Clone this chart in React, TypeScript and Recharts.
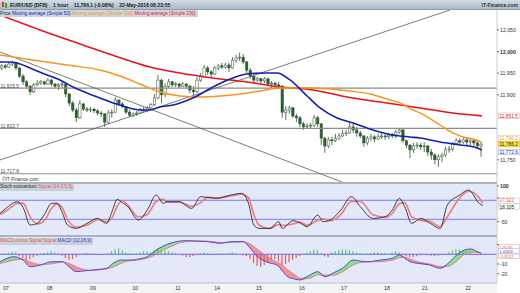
import React from 'react';
import { ComposedChart, Line, Bar, Area, XAxis, YAxis, ReferenceLine } from 'recharts';

const FONT = '"Liberation Sans", Arial, sans-serif';
const X_DOMAIN: [number, number] = [0, 280];

const dayTickHours = [3.4, 27.9, 52.4, 76.1, 100.3, 122.3, 145.9, 170.1, 193.8, 218, 239.4, 263.7];
const dayTickLabels = ['07', '08', '09', '10', '11', '14', '15', '16', '17', '18', '21', '22'];

// 2-hour candles [open, high, low, close]
const candles: [number, number, number, number][] = [
  [11962,11971,11957,11967],[11967,11971,11960,11964],[11964,11976,11962,11971],[11971,11978,11967,11974],
  [11974,11976,11957,11962],[11962,11964,11939,11943],[11943,11948,11923,11930],[11930,11934,11916,11920],
  [11920,11923,11900,11907],[11907,11927,11904,11923],[11923,11934,11920,11927],[11927,11934,11923,11930],
  [11930,11932,11923,11925],[11925,11939,11923,11934],[11934,11937,11920,11925],[11925,11927,11914,11920],
  [11920,11927,11911,11923],[11923,11930,11916,11925],[11925,11927,11895,11902],[11902,11904,11874,11881],
  [11881,11886,11860,11865],[11865,11870,11837,11847],[11847,11888,11844,11879],[11879,11881,11863,11867],
  [11867,11872,11860,11865],[11865,11872,11860,11867],[11867,11870,11858,11863],[11863,11867,11853,11858],
  [11858,11863,11849,11856],[11856,11858,11826,11837],[11837,11865,11833,11858],[11858,11867,11847,11860],
  [11860,11895,11858,11888],[11888,11890,11874,11879],[11879,11883,11870,11872],[11872,11874,11856,11860],
  [11860,11865,11849,11853],[11853,11860,11849,11856],[11856,11863,11851,11858],[11858,11870,11856,11865],
  [11865,11872,11858,11863],[11863,11874,11860,11870],[11870,11881,11865,11877],[11877,11902,11874,11893],
  [11893,11946,11890,11934],[11934,11937,11881,11900],[11900,11927,11895,11920],[11920,11937,11916,11930],
  [11930,11932,11918,11923],[11923,11930,11918,11925],[11925,11927,11916,11920],[11920,11930,11918,11925],
  [11925,11927,11916,11920],[11920,11923,11904,11911],[11911,11920,11900,11907],[11907,11941,11904,11934],
  [11934,11950,11930,11943],[11943,11969,11939,11962],[11962,11967,11946,11953],[11953,11957,11941,11948],
  [11948,11967,11946,11962],[11962,11971,11957,11967],[11967,11974,11960,11964],[11964,11974,11960,11969],
  [11969,11974,11953,11962],[11962,11987,11960,11980],[11980,11992,11974,11985],[11985,11997,11978,11987],
  [11987,11994,11971,11976],[11976,11978,11950,11957],[11957,11962,11937,11943],[11943,11948,11927,11934],
  [11934,11941,11930,11937],[11937,11939,11927,11932],[11932,11941,11927,11937],[11937,11939,11920,11925],
  [11925,11932,11916,11927],[11927,11930,11916,11923],[11923,11930,11914,11920],[11920,11923,11847,11860],
  [11860,11874,11842,11865],[11865,11874,11856,11870],[11870,11872,11847,11851],[11851,11856,11837,11847],
  [11847,11851,11826,11833],[11833,11837,11819,11826],[11826,11835,11821,11828],[11828,11835,11823,11830],
  [11830,11853,11826,11847],[11847,11851,11826,11833],[11833,11835,11784,11800],[11800,11803,11766,11782],
  [11782,11803,11777,11796],[11796,11803,11784,11794],[11794,11810,11791,11800],[11800,11812,11796,11805],
  [11805,11819,11803,11810],[11810,11819,11805,11812],[11812,11835,11810,11826],[11826,11833,11812,11819],
  [11819,11826,11803,11812],[11812,11817,11800,11805],[11805,11807,11780,11789],[11789,11805,11784,11800],
  [11800,11810,11793,11803],[11803,11807,11791,11798],[11798,11810,11796,11803],[11803,11812,11798,11805],
  [11805,11810,11796,11803],[11803,11812,11798,11807],[11807,11812,11800,11805],[11805,11819,11800,11814],
  [11814,11823,11810,11819],[11819,11821,11789,11794],[11794,11796,11777,11784],[11784,11787,11754,11773],
  [11773,11789,11766,11782],[11782,11791,11775,11784],[11784,11789,11773,11780],[11780,11791,11768,11782],
  [11782,11784,11759,11768],[11768,11775,11750,11761],[11761,11766,11740,11750],[11750,11763,11734,11757],
  [11757,11766,11745,11761],[11761,11780,11757,11773],[11773,11782,11766,11775],[11775,11791,11770,11787],
  [11787,11800,11784,11794],[11794,11800,11784,11791],[11791,11800,11787,11796],[11796,11800,11784,11791],
  [11791,11798,11784,11794],[11794,11796,11780,11789],[11789,11796,11775,11782],[11782,11789,11757,11786.2],
];

// moving averages [hour, value]
const ma50: [number, number][] = [
  [0,11975.8],[5.6,11975.8],[9.6,11973.5],[16.9,11961.9],[26.5,11945.8],[33.8,11934.3],[41.1,11918.1],
  [49,11904.3],[56.3,11892.7],[63.7,11881.2],[67.6,11876.6],[74.9,11867.4],[80.6,11865.1],[84.5,11865.1],
  [90.1,11872],[97.5,11876.6],[101.4,11881.2],[109.9,11895],[120,11918.1],[129.6,11936.6],[139.2,11948.1],
  [149.3,11950.4],[156.1,11950.4],[163.4,11934.3],[173,11897.3],[180.3,11869.7],[189.9,11846.6],
  [198.9,11835],[210.1,11818.9],[221.4,11807.3],[231,11802.7],[236.6,11800.4],[247.9,11791.2],
  [259.2,11784.3],[267.6,11779],[271.5,11772.6],
];
const ma100: [number, number][] = [
  [0,11992],[18.6,11980.4],[37.7,11968.9],[56.3,11957.3],[67.6,11943.5],[78.9,11925],[88.5,11908.9],
  [101.4,11897.3],[112.7,11895],[123.9,11897.3],[135.2,11902],[146.5,11908.9],[157.7,11915.8],
  [169,11915.8],[176.3,11915.8],[185.9,11913.5],[197.2,11908.9],[208.5,11902],[219.7,11888.1],
  [225.4,11881.2],[232.7,11865.1],[236.6,11858.1],[247.9,11830.4],[255.2,11812],[260.8,11802.7],
  [266.5,11798.1],[271.5,11790.2],
];
const ma200: [number, number][] = [
  [0,12084.3],[22.5,12049.7],[45.1,12017.4],[71.5,11980.4],[84.5,11964.3],[101.4,11950.4],[120,11938.9],
  [139.2,11929.6],[157.7,11918.1],[176.3,11911.2],[195.5,11895],[214.1,11883.5],[236.6,11869.7],
  [255.2,11858.1],[271.5,11851.5],
];

// stochastic momentum [hour, stoch, signal]
const stoch: [number, number, number][] = [
  [0,-15,-20],[4,10,-2],[7,27,15],[10,34,28],[13,10,28],[17,-64,-30],[21,-57,-60],[25,-20,-45],[29,27,5],
  [32,28,25],[35,-10,10],[38,-64,-40],[43,-78,-72],[49,-57,-65],[55,-36,-42],[60,-57,-50],[63,-10,-35],
  [66,44,15],[69,30,38],[72,13,20],[78,-43,-30],[83,-1,-20],[88,62,35],[92,27,45],[94,34,32],[101,34,32],
  [108,6,15],[113,55,30],[117,52,52],[122,48,50],[130,62,58],[136,69,66],[140,27,50],[143,-64,-20],
  [146,-78,-65],[152,-78,-78],[157,-50,-62],[159,-78,-66],[165,-46,-60],[169,-55,-52],[173,-71,-65],
  [179,-22,-45],[182,-50,-38],[186,-43,-46],[192,-1,-20],[198,55,35],[203,13,35],[210,-36,-20],
  [217,-29,-32],[221,-1,-15],[225,48,25],[228,13,30],[232,-57,-30],[237,-36,-45],[242,-55,-48],
  [248,-78,-70],[252,20,-30],[259,62,50],[264,83,78],[270,27,50],[272,18.105,27.922],
];

// MACD [hour, macd, signal]
const macd: [number, number, number][] = [
  [0,-7.6,-9.5],[8,-2.5,-6],[13,-6,-5],[17,-12.8,-8],[23,-11,-10.5],[28,-8,-10],[32,-7.6,-9],[35,-7.6,-8],
  [39,-13,-9.5],[43,-17.9,-13],[48,-17,-16],[52,-16.2,-16.8],[56,-15.5,-16],[60,-14.4,-15.2],[64,-9,-13],
  [68,-5.9,-9.5],[72,-6,-7],[75,-5.9,-6.3],[79,-4.5,-5.5],[83,-2.5,-4],[88,4.4,0],[92,8.5,4.5],[97,12,8.5],
  [101,13.5,11.5],[105,14,13],[111,13.5,13.8],[117,13,13.5],[121,12,12.8],[124,11.3,12],[128,12.5,12],
  [131,13,12.3],[137,13,12.8],[141,6.2,10.5],[145,-2.5,5],[148,-6,1],[152,-9,-4],[156,-11,-8],[159,-17,-11],
  [162,-23.1,-16],[166,-25.5,-21],[169,-26.5,-24.5],[174,-22,-25],[179,-17.9,-21],[183,-23.1,-21.5],
  [188,-19,-21.5],[193,-14.4,-18],[199,-5.9,-11],[203,-7,-8.5],[207,-7.6,-8],[214,-6,-7.5],[221,-4.1,-6],
  [225,-0.7,-3.5],[228,-4,-3],[231,-7.6,-5],[236,-9.5,-8],[242,-11,-10],[248,-14.4,-12.5],[252,-10,-12.5],
  [256,-3,-9],[259,2,-4],[262,4.5,0.5],[265,5.5,2],[268,3.5,2.2],[271,1.0024,1.8136],
];

// MACD minus signal histogram, one per 2-hour candle
const macdHist: number[] = [
  0.5,1,1.5, 2.5,2, -2,-4,-6,-5,-3,-1.5, 1,1.5,2, 3,2,1, -1.5,-4,-6,-5,-3,-1,
  1,1.5,1,0.5,-0.5,-1,0.5,1, 3,5,6,4,2, 1,0.5,1, 2,3,3,2, 4,6,5,4,3,2, 1,0,
  -1.5,-3,-3,-2,-1, 1,2,1, 0.5,-0.5,0.5,1,0.5, 1.5,2,1, 0,-1,
  -2,-5,-9,-12,-13,-11,-8,-6,-5,-7,-11,-10,-8,-6,-4,-2, 0.5,2,3, 5,4,1, -2,-3,
  2,3,4,5,5,4,3,2,1, 0.5,1,1.5,2,2,1.5,1,0.5, 2,3,2, -1,-2,-3,-3,-2,-1,
  -0.5,-1,-1.5,-2,-1.5, -0.5,0.5, 2,4,5,5,4,3,1.5, -0.5,-1,-0.8112,
];

const candleRows = candles.map((c, i) => ({ h: 2 * i + 1, o: c[0], hi: c[1], lo: c[2], c: c[3], range: [c[2], c[1]] }));
const ma50Rows = ma50.map(([h, v]) => ({ h, v }));
const ma100Rows = ma100.map(([h, v]) => ({ h, v }));
const ma200Rows = ma200.map(([h, v]) => ({ h, v }));
const stochRows = stoch.map(([h, k, d]) => ({ h, k, d }));

const macdRows = (() => {
  const map = new Map<number, any>();
  macd.forEach(([h, m, s]) => map.set(h, { h, m, s }));
  macdHist.forEach((v, i) => {
    const h = 2 * i + 1;
    const r = map.get(h) || { h };
    r.hist = v;
    map.set(h, r);
  });
  return Array.from(map.values()).sort((a, b) => a.h - b.h);
})();

const fmtPrice = (v: number) => v.toLocaleString('en-US', { minimumFractionDigits: 0, maximumFractionDigits: 1 });

const Candle = (props: any) => {
  const { x, y, width, height, payload } = props;
  if (x == null || y == null) return null;
  const top = Math.min(y, y + height);
  const hp = Math.abs(height);
  const span = payload.hi - payload.lo || 1;
  const py = (v: number) => top + ((payload.hi - v) / span) * hp;
  const cx = x + width / 2;
  const yo = py(payload.o);
  const yc = py(payload.c);
  const up = payload.c >= payload.o;
  const bodyTop = Math.min(yo, yc);
  const bodyH = Math.max(Math.abs(yc - yo), 0.8);
  return (
    <g>
      <line x1={cx} x2={cx} y1={top} y2={top + hp} stroke="#2f4f2f" strokeWidth={0.8} />
      <rect x={cx - 1.2} y={bodyTop} width={2.4} height={bodyH} fill={up ? '#ffffff' : '#2f5f2f'} stroke="#2f4f2f" strokeWidth={0.5} />
    </g>
  );
};

const HistBar = (props: any) => {
  const { x, y, width, height, payload } = props;
  if (x == null || y == null) return null;
  const top = Math.min(y, y + height);
  const hp = Math.abs(height);
  return <rect x={x + width / 2 - 0.6} y={top} width={1.2} height={hp} fill={payload.hist >= 0 ? '#4fcf4f' : '#e85a5a'} />;
};

const makeTag = (txt: string, color: string, bg: string, border: string, dy: number, h = 5.6, fs = 4.8) => (props: any) => {
  const vb = props.viewBox;
  if (!vb) return null;
  const x = vb.x + vb.width + 1.5;
  const y = vb.y + dy;
  return (
    <g>
      <rect x={x} y={y - h / 2} width={21} height={h} fill={bg} stroke={border} strokeWidth={0.5} />
      <text x={x + 1} y={y + fs * 0.36} fontSize={fs} fill={color} fontFamily={FONT}>{txt}</text>
    </g>
  );
};

const AxisTick = (bold?: number, fmt?: (v: number) => string, hidden: number[] = []) => (props: any) => {
  const { x, y, payload } = props;
  const v = payload.value;
  if (hidden.includes(v)) return <g />;
  return (
    <text x={x} y={y + 2} fontSize={5.2} fill="#333" fontFamily={FONT} fontWeight={v === bold ? 'bold' : 'normal'}>
      {fmt ? fmt(v) : String(v)}
    </text>
  );
};

const DayTick = (props: any) => {
  const { x, y, payload } = props;
  const idx = dayTickHours.indexOf(payload.value);
  return (
    <text x={x} y={y + 6.5} textAnchor="middle" fontSize={5.2} fill="#333" fontFamily={FONT}>
      {dayTickLabels[idx]}
    </text>
  );
};

const smallLabel = (value: string) => ({ value, position: 'insideBottomLeft' as const, offset: 0.5, fontSize: 4.8, fill: '#444', fontFamily: FONT });

export default function App() {
  const noMargin = { top: 0, right: 0, bottom: 0, left: 0 };
  return (
    <div style={{ position: 'absolute', left: 0, top: 0, width: 520, height: 293, background: '#ffffff', overflow: 'hidden', fontFamily: FONT }}>
      {/* header */}
      <div style={{ position: 'absolute', left: 0, top: 0, width: 520, height: 10, background: 'linear-gradient(#d3dde5, #a9bac7)', borderBottom: '1px solid #8f9ea9', boxSizing: 'border-box' }}>
        <span style={{ position: 'absolute', left: 2, top: 2, width: 2, height: 5, background: '#d33' }} />
        <span style={{ position: 'absolute', left: 5, top: 3, width: 2, height: 5, background: '#3a3' }} />
        <span style={{ position: 'absolute', left: 10, top: 1.5, fontSize: 5, fontWeight: 'bold', color: '#222', whiteSpace: 'pre', lineHeight: '6px' }}>
          {'EUR/USD (DFB)    1 hour    11,786.1 (-0.08%)    22-May-2018 08:23:55'}
        </span>
        <span style={{ position: 'absolute', right: 2, top: 1.5, fontSize: 5, fontWeight: 'bold', color: '#333', lineHeight: '6px' }}>IT-Finance.com</span>
      </div>

      {/* panel backgrounds */}
      <div style={{ position: 'absolute', left: 0, top: 182, width: 497, height: 2, background: '#aab4bd' }} />
      <div style={{ position: 'absolute', left: 0, top: 184, width: 497, height: 51, background: '#e3e9f8' }} />
      <div style={{ position: 'absolute', left: 0, top: 235, width: 497, height: 2, background: '#aab4bd' }} />
      <div style={{ position: 'absolute', left: 0, top: 237, width: 497, height: 46, background: '#e3e9f8' }} />
      <div style={{ position: 'absolute', left: 0, top: 283, width: 497, height: 10, background: '#f2f4f6' }} />

      {/* main price panel */}
      <div style={{ position: 'absolute', left: 0, top: 10 }}>
        <ComposedChart width={520} height={172} data={candleRows} margin={noMargin}>
          <XAxis type="number" dataKey="h" domain={X_DOMAIN} hide allowDataOverflow />
          <YAxis orientation="right" width={23} domain={[11698.8, 12095.8]} allowDataOverflow interval={0}
            ticks={[11750, 11900, 11950, 12000, 12050]} tick={AxisTick(12000, fmtPrice)} tickSize={2} tickMargin={1}
            tickLine={{ stroke: '#666' }} axisLine={{ stroke: '#c9cfd4' }} />
          <ReferenceLine y={11915.5} stroke="#8c8c8c" strokeWidth={1.2} label={smallLabel('11,915.5')} />
          <ReferenceLine y={11822.7} stroke="#8c8c8c" strokeWidth={1.2} label={smallLabel('11,822.7')} />
          <ReferenceLine y={11717.8} stroke="#8c8c8c" strokeWidth={1.2} label={smallLabel('11,717.8')} />
          <ReferenceLine segment={[{ x: 0, y: 11749.6 }, { x: 253.5, y: 12095.8 }]} stroke="#5a5a5a" strokeWidth={0.8} ifOverflow="visible" />
          <ReferenceLine segment={[{ x: 0, y: 11998.8 }, { x: 192.7, y: 11698.8 }]} stroke="#5a5a5a" strokeWidth={0.8} ifOverflow="visible" />
          <Bar dataKey="range" shape={Candle} barSize={3} isAnimationActive={false} />
          <Line data={ma200Rows} dataKey="v" type="monotone" stroke="#e8141a" strokeWidth={1.6} dot={false} isAnimationActive={false} />
          <Line data={ma100Rows} dataKey="v" type="monotone" stroke="#f7941d" strokeWidth={1.4} dot={false} isAnimationActive={false} />
          <Line data={ma50Rows} dataKey="v" type="monotone" stroke="#1420b4" strokeWidth={1.6} dot={false} isAnimationActive={false} />
          <ReferenceLine y={11851.5} stroke="none" label={makeTag('11,851.5', '#e8141a', '#ffffff', '#d9a0a0', 0)} />
          <ReferenceLine y={11790.2} stroke="none" label={makeTag('11,790.2', '#f7941d', '#ffffff', '#e8c090', -4)} />
          <ReferenceLine y={11786.2} stroke="none" label={makeTag('11,786.2', '#222', '#ffe83a', '#c8b000', 0)} />
          <ReferenceLine y={11772.6} stroke="none" label={makeTag('11,772.6', '#1420b4', '#ffffff', '#9aa0d8', 2)} />
        </ComposedChart>
      </div>

      {/* legend row */}
      <div style={{ position: 'absolute', left: 0, top: 10, height: 7, background: '#cdd6de', fontSize: 4.7, lineHeight: '7px', whiteSpace: 'pre', paddingRight: 2 }}>
        <span style={{ color: '#222' }}>Price </span>
        <span style={{ color: '#1420b4' }}>Moving average (Simple 50) </span>
        <span style={{ color: '#f7941d' }}>Moving average (Simple 100) </span>
        <span style={{ color: '#e8141a' }}>Moving average (Simple 200)</span>
      </div>
      <div style={{ position: 'absolute', left: 2, top: 176.5, fontSize: 4.8, lineHeight: '5px', color: '#333' }}>©IT-Finance.com</div>

      {/* stochastic panel */}
      <div style={{ position: 'absolute', left: 0, top: 184 }}>
        <ComposedChart width={520} height={51} data={stochRows} margin={noMargin}>
          <XAxis type="number" dataKey="h" domain={X_DOMAIN} hide allowDataOverflow />
          <YAxis orientation="right" width={23} domain={[-105.9, 108.4]} allowDataOverflow interval={0}
            ticks={[100, 50, -50]} tick={AxisTick(100, undefined, [50])} tickSize={2} tickMargin={1}
            tickLine={{ stroke: '#666' }} axisLine={{ stroke: '#c9cfd4' }} />
          <ReferenceLine y={40} stroke="#7070e8" strokeWidth={0.9} />
          <ReferenceLine y={-40} stroke="#7070e8" strokeWidth={0.9} />
          <Line dataKey="d" type="monotone" stroke="#ee7b7b" strokeWidth={1.6} dot={false} isAnimationActive={false} />
          <Line dataKey="k" type="monotone" stroke="#2b2b2b" strokeWidth={0.9} dot={false} isAnimationActive={false} />
          <ReferenceLine y={27.922} stroke="none" label={makeTag('27.922', '#e85a5a', '#ffffff', '#c0c0c0', -2.4)} />
          <ReferenceLine y={18.105} stroke="none" label={makeTag('18.105', '#222', '#ffffff', '#c0c0c0', 1.3)} />
        </ComposedChart>
      </div>
      <div style={{ position: 'absolute', left: 0, top: 184, height: 6.5, background: '#c8d0d8', fontSize: 4.7, lineHeight: '6.5px', whiteSpace: 'pre', paddingRight: 2 }}>
        <span style={{ color: '#222' }}>Stoch momentum </span>
        <span style={{ color: '#e85a5a' }}>Signal (14,3,5,3)</span>
      </div>

      {/* MACD panel */}
      <div style={{ position: 'absolute', left: 0, top: 237 }}>
        <ComposedChart width={520} height={56} data={macdRows} margin={noMargin}>
          <XAxis type="number" dataKey="h" domain={X_DOMAIN} allowDataOverflow height={10}
            ticks={dayTickHours} tick={DayTick} tickLine={false} tickSize={0} tickMargin={0}
            axisLine={{ stroke: '#b8c0c8' }} interval={0} />
          <YAxis orientation="right" width={23} domain={[-29.6, 17.8]} allowDataOverflow interval={0}
            ticks={[10, -10, -20]} tick={AxisTick(undefined, undefined, [10])} tickSize={2} tickMargin={1}
            tickLine={{ stroke: '#666' }} axisLine={{ stroke: '#c9cfd4' }} />
          <Area dataKey={(r: any) => (r.m == null ? null : [r.s, Math.max(r.m, r.s)])} type="monotone" connectNulls
            stroke="none" fill="#7ee07e" fillOpacity={0.9} isAnimationActive={false} />
          <Area dataKey={(r: any) => (r.m == null ? null : [Math.min(r.m, r.s), r.s])} type="monotone" connectNulls
            stroke="none" fill="#f08a8a" fillOpacity={0.9} isAnimationActive={false} />
          <ReferenceLine y={0} stroke="#6a6ae8" strokeWidth={1} />
          <Bar dataKey="hist" shape={HistBar} barSize={1.2} isAnimationActive={false} />
          <Line dataKey="s" type="monotone" stroke="#ee7b7b" strokeWidth={1} dot={false} connectNulls isAnimationActive={false} />
          <Line dataKey="m" type="monotone" stroke="#4a4ae0" strokeWidth={1} dot={false} connectNulls isAnimationActive={false} />
          <ReferenceLine y={1.8136} stroke="none" label={makeTag('1.8136', '#e85a5a', '#ffffff', '#d0a0a0', -5.5, 4.4, 4.3)} />
          <ReferenceLine y={1.0024} stroke="none" label={makeTag('1.0024', '#3a3ad8', '#ffffff', '#a0a0d8', -2.3, 4.4, 4.3)} />
          <ReferenceLine y={-0.8112} stroke="none" label={makeTag('-0.8112', '#e85a5a', '#ffffff', '#d0a0a0', 1.2, 4.4, 4.3)} />
        </ComposedChart>
      </div>
      <div style={{ position: 'absolute', left: 0, top: 238, height: 6.5, background: '#c8d0d8', fontSize: 4.7, lineHeight: '6.5px', whiteSpace: 'pre', paddingRight: 2 }}>
        <span style={{ color: '#e85a5a' }}>MACD minus Signal </span>
        <span style={{ color: '#e85a5a' }}>Signal </span>
        <span style={{ color: '#3a3ad8' }}>MACD (12,26,9)</span>
      </div>
    </div>
  );
}
